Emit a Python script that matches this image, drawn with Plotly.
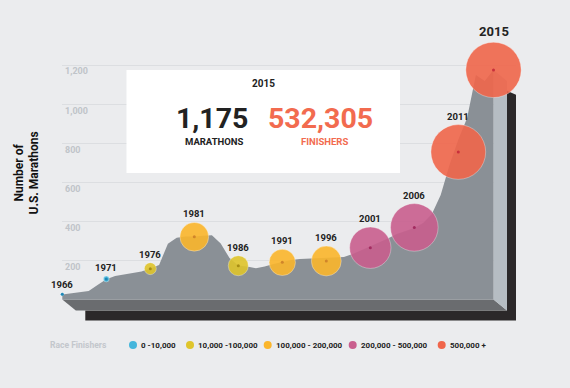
import plotly.graph_objects as go

# ---------------- data ----------------
years = list(range(1966, 2016))
marathons = [25, 31, 37, 43, 74, 103, 120, 128, 136, 143,
             159, 177, 285, 316, 322, 322, 326, 329, 287, 212,
             174, 169, 160, 169, 182, 192, 202, 207, 209, 210,
             210, 212, 217, 233, 253, 271, 289, 312, 335, 351,
             366, 391, 438, 535, 688, 817, 929, 1149, 1118, 1175]

bubble_years = [1966, 1971, 1976, 1981, 1986, 1991, 1996, 2001, 2006, 2011, 2015]
bubble_marathons = [27, 105, 158, 321, 173, 190, 197, 265, 369, 755, 1175]
bubble_finishers = [1500, 6000, 25000, 143000, 70000, 120000, 155000, 297000, 394000, 520000, 532305]

bin_edges = [0, 10000, 100000, 200000, 500000]
bin_labels = ["0 -10,000", "10,000 -100,000", "100,000 - 200,000", "200,000 - 500,000", "500,000 +"]
bin_colors = ["#45b6dc", "#dfc52c", "#fbb62c", "#c95f8e", "#f0664b"]
bin_dots = ["#1f86b5", "#a88e14", "#d0852a", "#a32b60", "#c8303c"]

y_tickvals = [200, 400, 600, 800, 1000, 1200]
y_ticktext = ["200", "400", "600", "800", "1,000", "1,200"]

headline_year = "2015"
headline_marathons = "1,175"
headline_finishers = "532,305"

# ---------------- layout geometry ----------------
W, H = 570, 388
L, R, T, B = 62, 54, 20, 58
PW, PH = W - L - R, H - T - B
ppx = 8.8                      # px per year
x_lo = 1966 - 0.3 / ppx
x_hi = x_lo + PW / ppx
ppy = 0.1954                   # px per marathon
y_lo = -(H - B - 299.5) / ppy
y_hi = y_lo + PH / ppy

def dx(px):
    return px / ppx

def dy(px):  # positive px = downward
    return -px / ppy

def P(xp, yp):
    return (xp - L) / PW, (H - B - yp) / PH

BG = "#ebecee"
FONT = "Roboto"

def bin_index(v):
    idx = 0
    for i, e in enumerate(bin_edges):
        if v >= e:
            idx = i
    return idx

fig = go.Figure()

x0, xN = years[0], years[-1]
yN = marathons[-1]

# black shadow (L shape)
sx = [x0 + dx(23), xN + dx(13.5), xN + dx(13.5), xN + dx(22.7), xN + dx(22.7), x0 + dx(23)]
sy = [dy(11), dy(11), yN + dy(21), yN + dy(25), dy(21), dy(21)]
fig.add_trace(go.Scatter(x=sx, y=sy, fill="toself", fillcolor="#2b2829", mode="lines",
                         line=dict(width=0), hoverinfo="skip", showlegend=False))
# bottom face
fig.add_trace(go.Scatter(x=[x0, xN, xN + dx(13.5), x0 + dx(13.5)], y=[0, 0, dy(11), dy(11)],
                         fill="toself", fillcolor="#6a6c6f", mode="lines", line=dict(width=0),
                         hoverinfo="skip", showlegend=False))
# side face
fig.add_trace(go.Scatter(x=[xN, xN + dx(13.5), xN + dx(13.5), xN], y=[yN, yN + dy(11), dy(11), 0],
                         fill="toself", fillcolor="#b6bdc3", mode="lines", line=dict(width=0),
                         hoverinfo="skip", showlegend=False))
# front area
fig.add_trace(go.Scatter(x=years, y=marathons, fill="tozeroy", fillcolor="#8a9096", mode="lines",
                         line=dict(width=0, color="#8a9096"), hoverinfo="skip", showlegend=False))

# bubbles
dmax = 55.4
fmax = max(bubble_finishers)
sizeref = 2.0 * fmax / dmax ** 2
cols = [bin_colors[bin_index(v)] for v in bubble_finishers]
dots = [bin_dots[bin_index(v)] for v in bubble_finishers]
fig.add_trace(go.Scatter(x=bubble_years, y=bubble_marathons, mode="markers",
                         marker=dict(size=bubble_finishers, sizemode="area", sizeref=sizeref,
                                     color=cols, opacity=0.9,
                                     line=dict(width=0.8, color="rgba(255,255,255,0.45)")),
                         hoverinfo="skip", showlegend=False, cliponaxis=False))
fig.add_trace(go.Scatter(x=bubble_years, y=bubble_marathons, mode="markers",
                         marker=dict(size=3, color=dots), hoverinfo="skip",
                         showlegend=False, cliponaxis=False))

annotations = []
for i, (yr, v, f) in enumerate(zip(bubble_years, bubble_marathons, bubble_finishers)):
    r = dmax * (f / fmax) ** 0.5 / 2
    last = i == len(bubble_years) - 1
    annotations.append(dict(x=yr, y=v, xref="x", yref="y", text=str(yr), showarrow=False,
                            xanchor="center", yanchor="bottom", yshift=r + 1,
                            font=dict(family=FONT, size=13 if last else 9.5, color="#222222",
                                      weight="bold")))

# axis title
tx, ty = P(26.5, 173)
annotations.append(dict(x=tx, y=ty, xref="paper", yref="paper", text="Number of<br>U.S. Marathons",
                        xanchor="center", yanchor="middle",
                        textangle=-90, showarrow=False, font=dict(family=FONT, size=12, color="#111111", weight="bold")))

# info box
bx0, by0 = P(126.5, 173)
bx1, by1 = P(400, 70)
shapes = [dict(type="rect", xref="paper", yref="paper", x0=bx0, y0=by0, x1=bx1, y1=by1,
               fillcolor="white", line=dict(width=0), layer="above")]

def add_text(xp, yp, text, size, color, family=FONT, xanchor="center"):
    ax, ay = P(xp, yp)
    annotations.append(dict(x=ax, y=ay, xref="paper", yref="paper", text=text, showarrow=False,
                            xanchor=xanchor, yanchor="middle",
                            font=dict(family=family, size=size, color=color, weight="bold")))

add_text(263, 83.5, headline_year, 10, "#222222")
add_text(212, 118, headline_marathons, 28.5, "#222222")
add_text(214, 141, "MARATHONS", 9.5, "#222222")
add_text(320, 118, headline_finishers, 28.5, "#f26b4f")
add_text(324, 141, "FINISHERS", 9.5, "#f26b4f")

# legend
add_text(48, 345, "Race Finishers", 8.5, "#c3c7cc", xanchor="left")
dot_x = [133, 190, 267.7, 352.7, 441.7]
for cx, lab, c in zip(dot_x, bin_labels, bin_colors):
    a0, b0 = P(cx - 4, 349)
    a1, b1 = P(cx + 4, 341)
    shapes.append(dict(type="circle", xref="paper", yref="paper", x0=a0, y0=b0, x1=a1, y1=b1,
                       fillcolor=c, line=dict(width=0)))
    add_text(cx + 6, 345, lab, 8, "#222222", xanchor="left")

fig.update_layout(
    width=W, height=H, margin=dict(l=L, r=R, t=T, b=B),
    paper_bgcolor=BG, plot_bgcolor=BG,
    xaxis=dict(range=[x_lo, x_hi], showgrid=False, zeroline=False, showticklabels=False,
               showline=False, fixedrange=True),
    yaxis=dict(range=[y_lo, y_hi], tickvals=y_tickvals, ticktext=y_ticktext,
               showgrid=True, gridcolor="#dcdee1", gridwidth=1, zeroline=False, showline=False,
               ticks="", ticklabelposition="inside bottom", fixedrange=True,
               tickfont=dict(family=FONT, size=9, color="#c0c4c9", weight="bold")),
    annotations=annotations, shapes=shapes, showlegend=False,
)

fig.write_html("out.html", config={"displayModeBar": False},
               post_script="document.body.style.margin='0px';document.body.style.background='" + BG + "';")
